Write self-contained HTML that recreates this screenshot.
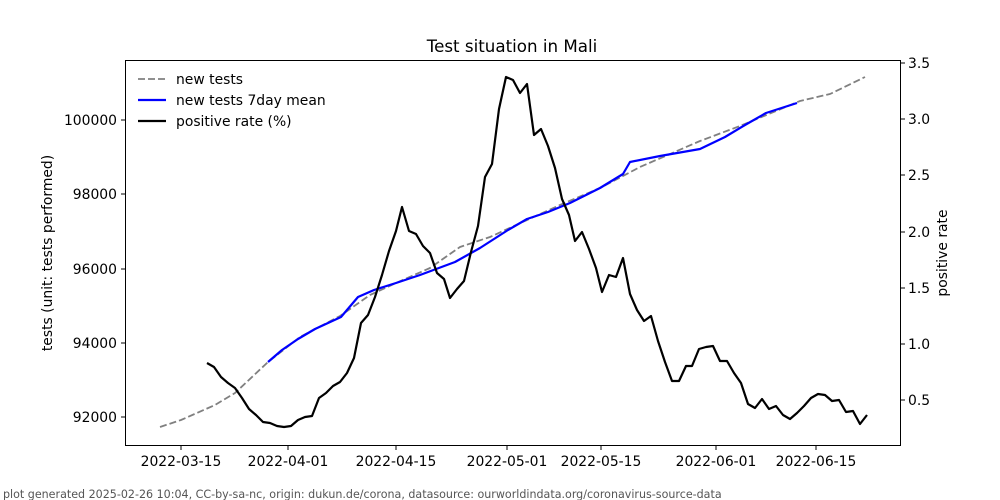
<!DOCTYPE html>
<html><head><meta charset="utf-8"><style>body{margin:0;background:#fff}svg{display:block;font-family:"DejaVu Sans","Liberation Sans",sans-serif}</style></head><body>
<svg width="1000" height="500" viewBox="0 0 1000 500" xmlns="http://www.w3.org/2000/svg">
<rect width="1000" height="500" fill="#fff"/>
<text x="512" y="52" font-size="16.7" text-anchor="middle">Test situation in Mali</text>
<g fill="none" stroke-linejoin="round">
<polyline stroke="#808080" stroke-width="1.8" stroke-dasharray="7,3" points="160,427 181,420 215,405 235,393 268,362 300,337 340,316 370,295 396,283 430,268 460,247 490,237 527,220 560,205 600,188 640,167 700,141 740,126 800,101 830,94 865,77"/>
<polyline stroke="#0000ff" stroke-width="2.2" points="268,362 282,350 298,339 315,329 341,317 358,297 374,290 396,283 420,275 455,262 480,248 508,230 527,219 548,212 570,203 600,188 623,174 630,162 660,156 700,149 725,137 745,125 766,113 797,103"/>
<polyline stroke="#000" stroke-width="2.2" points="207,363 214,367 221,377 228,383 235,388 242,398 249,409 256,415 263,422 270,423 277,426 284,427 291,426 298,420 305,417 312,416 319,398 326,393 333,386 340,382 347,373 354,358 361,323 368,315 375,297 382,275 389,251 396,231 402,207 409,231 416,234 423,246 430,253 437,273 444,279 450,298 457,289 464,281 471,252 478,226 485,177 492,164 499,109 506,77 513,80 520,93 527,84 534,135 541,129 548,146 555,168 562,199 569,215 575,241 582,232 589,249 596,268 602,292 609,275 616,277 623,258 630,294 637,310 644,321 651,316 658,341 665,362 672,381 679,381 686,366 692,366 699,349 706,347 713,346 720,361 727,361 734,373 741,383 748,404 755,408 762,399 769,409 776,406 783,415 790,419 797,413 804,406 811,398 818,394 825,395 832,401 839,400 846,412 853,411 860,424 867,415"/>
</g>
<rect x="125.5" y="60.5" width="775" height="385" fill="none" stroke="#000" stroke-width="1"/>
<g stroke="#000" stroke-width="1">
<line x1="121" y1="120" x2="125" y2="120"/><line x1="121" y1="194" x2="125" y2="194"/><line x1="121" y1="269" x2="125" y2="269"/><line x1="121" y1="343" x2="125" y2="343"/><line x1="121" y1="417" x2="125" y2="417"/>
<line x1="900" y1="63" x2="905" y2="63"/><line x1="900" y1="119" x2="905" y2="119"/><line x1="900" y1="175" x2="905" y2="175"/><line x1="900" y1="232" x2="905" y2="232"/><line x1="900" y1="288" x2="905" y2="288"/><line x1="900" y1="344" x2="905" y2="344"/><line x1="900" y1="400" x2="905" y2="400"/>
<line x1="181" y1="445" x2="181" y2="450"/><line x1="288" y1="445" x2="288" y2="450"/><line x1="396" y1="445" x2="396" y2="450"/><line x1="507" y1="445" x2="507" y2="450"/><line x1="601" y1="445" x2="601" y2="450"/><line x1="716" y1="445" x2="716" y2="450"/><line x1="816" y1="445" x2="816" y2="450"/>
</g>
<g font-size="13.9" text-anchor="end">
<text x="117" y="125">100000</text><text x="117" y="199">98000</text><text x="117" y="274">96000</text><text x="117" y="348">94000</text><text x="117" y="422">92000</text>
</g>
<g font-size="13.9">
<text x="908" y="68">3.5</text><text x="908" y="124">3.0</text><text x="908" y="180">2.5</text><text x="908" y="237">2.0</text><text x="908" y="293">1.5</text><text x="908" y="349">1.0</text><text x="908" y="405">0.5</text>
</g>
<g font-size="13.9" text-anchor="middle">
<text x="181" y="466">2022-03-15</text><text x="288" y="466">2022-04-01</text><text x="396" y="466">2022-04-15</text><text x="507" y="466">2022-05-01</text><text x="601" y="466">2022-05-15</text><text x="716" y="466">2022-06-01</text><text x="816" y="466">2022-06-15</text>
</g>
<text transform="translate(52,253) rotate(-90)" font-size="13.9" text-anchor="middle">tests (unit: tests performed)</text>
<text transform="translate(947,253) rotate(-90)" font-size="13.9" text-anchor="middle">positive rate</text>
<g font-size="13.9">
<line x1="138" y1="79" x2="166" y2="79" stroke="#808080" stroke-width="1.8" stroke-dasharray="7,3"/><text x="176" y="84">new tests</text>
<line x1="138" y1="100" x2="166" y2="100" stroke="#0000ff" stroke-width="2.2"/><text x="176" y="105">new tests 7day mean</text>
<line x1="138" y1="121" x2="166" y2="121" stroke="#000" stroke-width="2.2"/><text x="176" y="126">positive rate (%)</text>
</g>
<text x="3" y="498" font-size="11.1" fill="#555">plot generated 2025-02-26 10:04, CC-by-sa-nc, origin: dukun.de/corona, datasource: ourworldindata.org/coronavirus-source-data</text>
</svg>
</body></html>
